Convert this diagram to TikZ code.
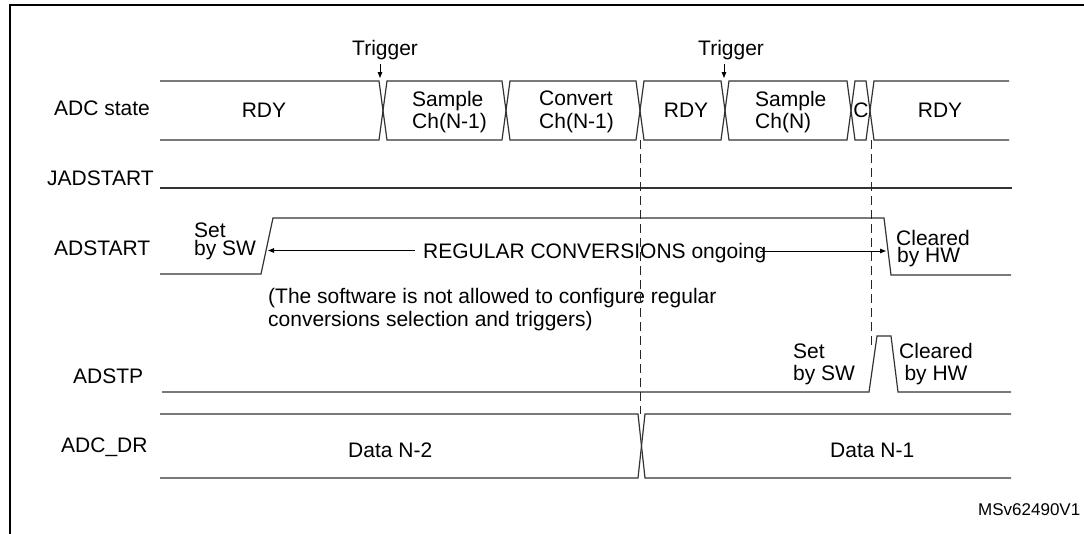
\documentclass[tikz,border=0pt]{standalone}
\usepackage{fontspec}
\setmainfont{Liberation Sans}
\usetikzlibrary{arrows.meta}
\begin{document}
\begin{tikzpicture}[x=1pt,y=-1pt,
  sig/.style={line width=1.2pt,draw=black!80,line join=miter},
  txt/.style={inner sep=0pt,anchor=base west,font=\fontsize{21}{23}\selectfont},
  ctxt/.style={inner sep=0pt,anchor=base,font=\fontsize{21}{23}\selectfont},
  small/.style={inner sep=0pt,anchor=base west,font=\fontsize{17}{19}\selectfont},
  guide/.style={line width=1pt,dash pattern=on 9pt off 5pt,draw=black!85},
  tip/.style={-{Triangle[length=6pt,width=4.5pt]},line width=0.9pt}]
\useasboundingbox (0,0) rectangle (1084,533);
% frame
\draw[line width=2.6pt] (10,545) -- (10,5) -- (1095,5);

% ---------- row labels ----------
\node[txt] (lstate) at (54,115) {ADC state};
\node[txt] (ljad)   at (47,185) {JADSTART};
\node[txt] (ladst)  at (54,255) {ADSTART};
\node[txt] (ladstp) at (73,383) {ADSTP};
\node[txt] (ldr)    at (61,452) {ADC\_DR};

% ---------- ADC state bus ----------
\draw[sig] (160,81) -- (379,81) -- (383,110.5) -- (379,140) -- (160,140);
\draw[sig] (387,81) -- (502,81) -- (506,110.5) -- (502,140) -- (387,140) -- (383,110.5) -- cycle;
\draw[sig] (510,81) -- (636,81) -- (640,110.5) -- (636,140) -- (510,140) -- (506,110.5) -- cycle;
\draw[sig] (644,81) -- (721,81) -- (725,110.5) -- (721,140) -- (644,140) -- (640,110.5) -- cycle;
\draw[sig] (729,81) -- (847,81) -- (851,110.5) -- (847,140) -- (729,140) -- (725,110.5) -- cycle;
\draw[sig] (855,81) -- (866,81) -- (870,110.5) -- (866,140) -- (855,140) -- (851,110.5) -- cycle;
\draw[sig] (1009,81) -- (874,81) -- (870,110.5) -- (874,140) -- (1009,140);

\node[ctxt] (rdy1) at (264,117) {RDY};
\node[txt] (s1a) at (412,106) {Sample};
\node[txt] (s1b) at (412,128) {Ch(N-1)};
\node[txt] (c1a) at (539,105) {Convert};
\node[txt] (c1b) at (539,128) {Ch(N-1)};
\node[ctxt] (rdy2) at (686,117) {RDY};
\node[txt] (s2a) at (755,106) {Sample};
\node[txt] (s2b) at (755,128) {Ch(N)};
\node[ctxt] (cc) at (861,117) {C};
\node[ctxt] (rdy3) at (940,117) {RDY};

% triggers
\node[txt] (trig1) at (352,55) {Trigger};
\node[txt] (trig2) at (698,55) {Trigger};
\coordinate (t1a) at (380,64);
\coordinate (t1b) at (380,78);
\coordinate (t2a) at (724,64);
\coordinate (t2b) at (724,78);
\draw[tip] (t1a) -- (t1b);
\draw[tip] (t2a) -- (t2b);

% ---------- JADSTART ----------
\draw[sig] (160,188) -- (1012,188);

% ---------- ADSTART ----------
\draw[sig] (160,274) -- (261,274) -- (273,218) -- (884,218) -- (891,275) -- (1011,275);
\node[txt] (set1a) at (194,237.5) {Set};
\node[txt] (set1b) at (194,255) {by SW};
\node[txt] (clr1a) at (896,245) {Cleared};
\node[txt] (clr1b) at (897,262.5) {by HW};
\node[txt] (reg) at (423,258) {REGULAR CONVERSIONS ongoing};
\coordinate (regL) at (268,250.5);
\coordinate (regRa) at (760,251);
\coordinate (regR) at (886,251);
\draw[tip] (reg.west |- regL) ++(-8,0) -- (regL);
\draw[tip] (regRa) -- (regR);

\node[txt] (note1) at (268,303) {(The software is not allowed to configure regular};
\node[txt] (note2) at (268,326) {conversions selection and triggers)};

% ---------- ADSTP ----------
\draw[sig] (162,392) -- (869,392) -- (877,336) -- (891,336) -- (898,392) -- (1011,392);
\node[txt] (set2a) at (793,358) {Set};
\node[txt] (set2b) at (793,380) {by SW};
\node[ctxt] (clr2a) at (936,358) {Cleared};
\node[ctxt] (clr2b) at (936,380) {by HW};

% ---------- ADC_DR ----------
\draw[sig] (160,414) -- (638,414) -- (641.5,446) -- (638,478) -- (160,478);
\draw[sig] (1011,414) -- (645,414) -- (641.5,446) -- (645,478) -- (1011,478);
\node[txt] (d2) at (348,457) {Data N-2};
\node[txt] (d1) at (830,457) {Data N-1};

% ---------- guides ----------
\coordinate (g1a) at (640,140);
\coordinate (g1b) at (640,414);
\coordinate (g2a) at (871,140);
\coordinate (g2b) at (871,345);
\draw[guide] (g1a) -- (g1b);
\draw[guide] (g2a) -- (g2b);

\node[small] (id) at (978,515) {MSv62490V1};
\end{tikzpicture}
\end{document}
